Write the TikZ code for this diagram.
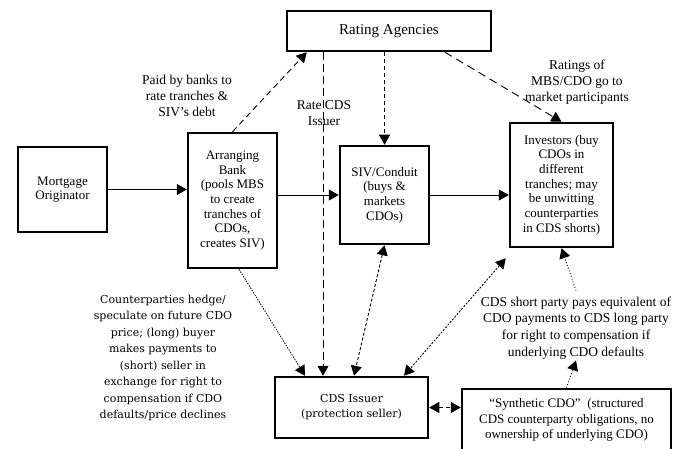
\documentclass[tikz,border=0pt]{standalone}
\usepackage{fontspec}
\setmainfont{Liberation Serif}
\newfontfamily\widefont{DejaVu Serif}
\usetikzlibrary{arrows.meta}

\tikzset{
  box/.style={draw,line width=2.5pt,align=center,inner sep=2pt,
    font=\fontsize{13}{14.7}\selectfont},
  note/.style={align=center,inner sep=1pt,font=\fontsize{13.5}{16.3}\selectfont},
  tip/.style={line width=0.9pt,-{Triangle[length=10pt,width=11pt]}},
  twotips/.style={line width=0.9pt,{Triangle[length=10pt,width=11pt]}-{Triangle[length=10pt,width=11pt]}},
}

\begin{document}
\begin{tikzpicture}
  [x=1pt,y=-1pt]
  \useasboundingbox (0,0) rectangle (688,449);
  % boxes
  \node[box,minimum width=204pt,minimum height=40pt,font=\fontsize{15}{17}\selectfont] (rating) at (389,31) {Rating Agencies};
  \node[box,minimum width=89pt,minimum height=85pt] (orig) at (62.5,189.5) {Mortgage\\Originator};
  \node[box,minimum width=89pt,minimum height=135pt] (bank) at (232.5,200.5)
    {Arranging\\Bank\\(pools MBS\\to create\\tranches of\\CDOs,\\creates SIV)};
  \node[box,minimum width=89pt,minimum height=98pt] (siv) at (384.5,195)
    {SIV/Conduit\\(buys \&\\markets\\CDOs)};
  \node[box,minimum width=103pt,minimum height=124pt] (inv) at (561.5,185)
    {Investors (buy\\CDOs in\\different\\tranches; may\\be unwitting\\counterparties\\in CDS shorts)};
  \node[box,minimum width=153pt,minimum height=61pt,font=\widefont\fontsize{11}{15}\selectfont] (cds) at (351.5,407.5)
    {CDS Issuer\\(protection seller)};
  \node[box,minimum width=209pt,minimum height=62pt,font=\fontsize{13}{15.5}\selectfont] (synth) at (566.5,420)
    {``Synthetic CDO''~~(structured\\CDS counterparty obligations, no\\ownership of underlying CDO)};

  % texts
  \node[note] (paid) at (187,96) {Paid by banks to\\rate tranches \&\\SIV's debt};
  \node[note,font=\fontsize{13.5}{16.5}\selectfont] (ratecds) at (324,113) {Rate CDS\\Issuer};
  \node[note] (ratings) at (577,82) {Ratings of\\MBS/CDO go to\\market participants};
  \node[note,font=\widefont\fontsize{11}{16.5}\selectfont] (hedge) at (163,358)
    {Counterparties hedge/\\speculate on future CDO\\price; (long) buyer\\makes payments to\\(short) seller in\\exchange for right to\\compensation if CDO\\defaults/price declines};
  \node[note,font=\fontsize{13.5}{16.7}\selectfont] (short) at (576,328)
    {CDS short party pays equivalent of\\CDO payments to CDS long party\\for right to compensation if\\underlying CDO defaults};

  \coordinate (rc) at ([xshift=-28.5pt]cds.north);
  \coordinate (ic) at ([xshift=-3pt,yshift=-10pt]inv.south west);

  % flows
  \foreach \from/\to in {orig.east/orig.east -| bank.west,siv.west -| bank.east/siv.west,siv.east/siv.east -| inv.west}
    \draw[tip] (\from) -- (\to);

  \draw[tip,dash pattern=on 6pt off 4pt] (bank.north) -- ([xshift=21pt]rating.south west);
  \draw[tip,dash pattern=on 4pt off 3pt] (rating.south -| siv.north) -- (siv.north);
  \draw[tip,dash pattern=on 8pt off 4pt] (rating.south -| rc) -- (rc);
  \draw[tip,dash pattern=on 8pt off 5pt] ([xshift=56pt]rating.south) -- (inv.north);
  \draw[tip,line width=0.8pt,dash pattern=on 1.5pt off 1.2pt] ([xshift=6.5pt]bank.south) -- ([xshift=-46.5pt]cds.north);
  \draw[twotips,dash pattern=on 3pt off 2pt] (siv.south) -- ([xshift=2.5pt]cds.north);
  \draw[twotips,dash pattern=on 2pt off 1.5pt] (ic) -- ([xshift=52.5pt]cds.north);
  \draw[twotips,dash pattern=on 4pt off 3pt] (cds.east) -- (cds.east -| synth.west);
  \draw[tip,dotted] (synth.north) -- (short.south);
  \draw[tip,dotted] ([yshift=5pt]short.north) -- (inv.south);
\end{tikzpicture}
\end{document}
